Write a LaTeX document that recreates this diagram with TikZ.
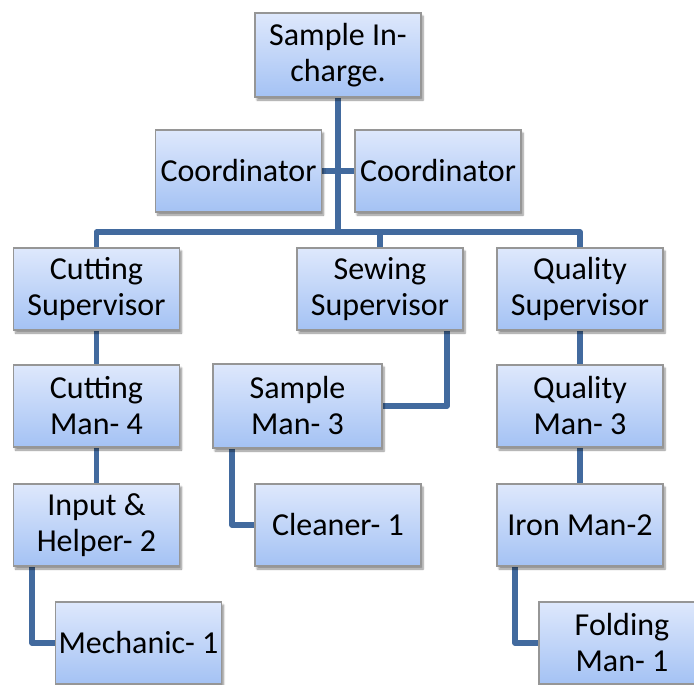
\documentclass[tikz,border=0pt]{standalone}
\usepackage{fontspec}
\setmainfont{Carlito}
\usetikzlibrary{shadows.blur,backgrounds}
\definecolor{linkblue}{RGB}{66,106,158}
\definecolor{boxtop}{RGB}{222,232,252}
\definecolor{boxbot}{RGB}{164,194,244}
\definecolor{boxedge}{RGB}{150,150,150}
\tikzset{
  orgbox/.style={draw=boxedge, line width=1.2pt, top color=boxtop, bottom color=boxbot,
    minimum width=166pt, minimum height=82pt, inner sep=2pt, align=center,
    font=\fontsize{32}{36}\selectfont,
    execute at begin node={\vspace*{5pt}},
    blur shadow={shadow xshift=2pt, shadow yshift=-3pt, shadow blur steps=6, shadow opacity=45}},
  link/.style={draw=linkblue, line width=5.5pt, line join=round}
}
\begin{document}
\begin{tikzpicture}[x=1pt, y=-1pt]
\useasboundingbox (0,0) rectangle (694,685);
% boxes
\node[orgbox, minimum height=84pt] (top) at (338,55) {Sample In-\\charge.};
\node[orgbox] (coordL) at (238.5,171) {Coordinator};
\node[orgbox] (coordR) at (438,171) {Coordinator};
\node[orgbox] (cutS) at (96.5,289) {Cutting\\Supervisor};
\node[orgbox] (sewS) at (380,289) {Sewing\\Supervisor};
\node[orgbox] (qualS) at (580,289) {Quality\\Supervisor};
\node[orgbox] (cutM) at (96.5,406) {Cutting\\Man- 4};
\node[orgbox, minimum width=169pt, minimum height=84pt] (sampM) at (297.5,406) {Sample\\Man- 3};
\node[orgbox] (qualM) at (580,406) {Quality\\Man- 3};
\node[orgbox] (input) at (96.5,525) {Input \&\\Helper- 2};
\node[orgbox] (clean) at (338,525) {Cleaner- 1};
\node[orgbox] (iron) at (580,525) {Iron Man-2};
\node[orgbox] (mech) at (138.5,643) {Mechanic- 1};
\node[orgbox] (fold) at (622,643) {Folding\\Man- 1};
\coordinate (bus) at (339,232);
% connectors
\begin{pgfonlayer}{background}
\draw[link] (top.south) -- (top.south |- bus);
\draw[link] (coordL.east) -- (coordR.west);
\draw[link] (cutS.north) |- (bus) -| (qualS.north);
\draw[link] (sewS.north) -- (sewS.north |- bus);
\draw[link] (cutS.south) -- (cutM.north);
\draw[link] (cutM.south) -- (input.north);
\draw[link] ([xshift=-64.5pt]input.south) |- (mech.west);
\draw[link] ([xshift=67pt]sewS.south) |- (sampM.east);
\draw[link] ([xshift=-65.5pt]sampM.south) |- (clean.west);
\draw[link] (qualS.south) -- (qualM.north);
\draw[link] (qualM.south) -- (iron.north);
\draw[link] ([xshift=-65pt]iron.south) |- (fold.west);
\end{pgfonlayer}
\end{tikzpicture}
\end{document}
